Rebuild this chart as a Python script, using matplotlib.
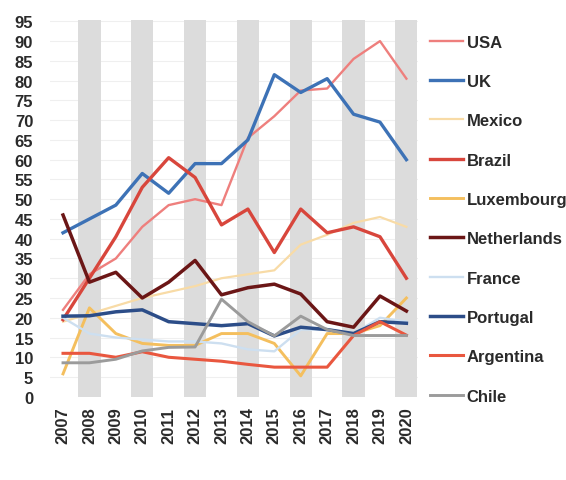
import matplotlib.pyplot as plt

plt.rcParams['font.family'] = ['Liberation Sans', 'DejaVu Sans']

years = list(range(2007, 2021))

usa = [22, 31, 35, 43, 48.5, 50, 48.5, 65.5, 71, 77.5, 78, 85.5, 90, 80.5]
uk = [41.5, 45, 48.5, 56.5, 51.5, 59, 59, 65, 81.5, 77, 80.5, 71.5, 69.5, 60]
mexico = [19, 21, 23, 25, 26.5, 28, 30, 31, 32, 38.5, 41, 44, 45.5, 43]
brazil = [19.5, 30, 40.5, 53, 60.5, 55.5, 43.5, 47.5, 36.5, 47.5, 41.5, 43, 40.5, 30]
luxembourg = [5.8, 22.5, 16, 13.5, 13, 13, 16, 16, 13.5, 5.3, 16, 16, 18, 25]
netherlands = [46, 29, 31.5, 25, 29, 34.5, 25.8, 27.6, 28.5, 26, 19, 17.6, 25.5, 21.7]
france = [20, 16, 15, 14.5, 14, 14, 13.5, 12, 11.5, 17, 17, 16, 20, 19]
portugal = [20.4, 20.5, 21.5, 22, 19, 18.5, 18, 18.5, 15.4, 17.6, 17, 16, 19, 18.6]
argentina = [11, 11, 10, 11.4, 10, 9.5, 9, 8.2, 7.5, 7.5, 7.5, 15.5, 19, 15.6]
chile = [8.6, 8.6, 9.5, 11.6, 12.5, 12.6, 24.7, 19, 15.4, 20.4, 17, 15.5, 15.5, 15.5]

names = ["USA", "UK", "Mexico", "Brazil", "Luxembourg", "Netherlands",
         "France", "Portugal", "Argentina", "Chile"]
series = [usa, uk, mexico, brazil, luxembourg, netherlands,
          france, portugal, argentina, chile]
colors = ["#ee7f7d", "#3d72b6", "#f8dba6", "#d8463c", "#f4bf5e", "#6b1616",
          "#cddff0", "#2c4d88", "#e9573f", "#9b9b9b"]
widths = [1.7, 2.4, 1.6, 2.4, 2.1, 2.5, 1.7, 2.5, 2.2, 2.1]

fig = plt.figure(figsize=(5.66, 4.81), dpi=100)
ax = fig.add_axes([0.088, 0.173, 0.651, 0.783])

# faint grid, gray bands on even years
for v in range(5, 100, 5):
    ax.axhline(v, color="#efefef", lw=0.8, zorder=0)
for yr in years:
    if yr % 2 == 0:
        ax.axvspan(yr - 0.42, yr + 0.42, color="#dcdcdc", lw=0, zorder=1)

for name, vals, c, w in zip(names, series, colors, widths):
    ax.plot(years, vals, color=c, lw=w, label=name, zorder=3)

ax.set_xlim(2006.5, 2020.45)
ax.set_ylim(0, 95.3)
ax.set_yticks(range(0, 100, 5))
ax.set_xticks(years)
ax.set_xticklabels([str(y) for y in years], rotation=90)
ax.tick_params(length=0, labelsize=12, labelcolor="#2a2a2a")
ax.tick_params(axis='y', pad=12)
ax.tick_params(axis='x', pad=7)
for lab in ax.get_xticklabels() + ax.get_yticklabels():
    lab.set_fontweight("bold")
for s in ax.spines.values():
    s.set_visible(False)

leg = ax.legend(loc="upper left", bbox_to_anchor=(1.018, 0.975), frameon=False,
                prop={"size": 12, "weight": "bold"}, labelspacing=1.46,
                handlelength=2.0, handletextpad=0.2, borderaxespad=0,
                borderpad=0.3)
for t in leg.get_texts():
    t.set_color("#2a2a2a")

fig.savefig("out.png", dpi=100)
